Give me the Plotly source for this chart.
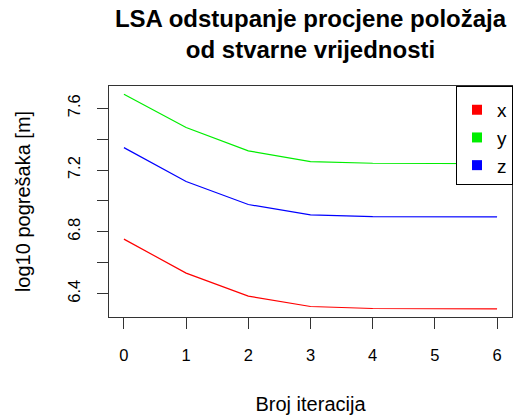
import plotly.graph_objects as go

iterations = [0, 1, 2, 3, 4, 5, 6]
err_x = [6.753, 6.533, 6.384, 6.317, 6.304, 6.302, 6.302]
err_y = [7.690, 7.475, 7.324, 7.255, 7.244, 7.242, 7.241]
err_z = [7.345, 7.126, 6.977, 6.910, 6.899, 6.897, 6.897]
series_names = ["x", "y", "z"]
colors = ["#ff0000", "#00ee00", "#0000ff"]
y_ticks = [6.4, 6.6, 6.8, 7.0, 7.2, 7.4, 7.6]
y_ticktext = ["6.4", "", "6.8", "", "7.2", "", "7.6"]

FONT = "Liberation Sans, Arial, sans-serif"
W, H = 514, 415

fig = go.Figure()
for name, vals, col in zip(series_names, [err_x, err_y, err_z], colors):
    fig.add_trace(go.Scatter(x=iterations, y=vals, mode="lines",
                             line=dict(color=col, width=1.2), showlegend=False))
for name, col in zip(series_names, colors):
    fig.add_trace(go.Scatter(x=[None], y=[None], mode="markers", name=name,
                             marker=dict(symbol="square", size=10, color=col)))

fig.update_layout(
    width=W, height=H,
    margin=dict(l=109, r=2, t=86, b=H - 317, autoexpand=False),
    paper_bgcolor="white", plot_bgcolor="white",
    font=dict(family=FONT, size=16, color="black"),
    title=dict(text="<b>LSA odstupanje procjene položaja<br>od stvarne vrijednosti</b>",
               x=310.5 / W, xanchor="center", y=(H - 27) / H, yanchor="top",
               font=dict(size=24, family=FONT)),
    legend=dict(x=(456 - 109) / 403, xanchor="left", y=1.0, yanchor="top",
                bordercolor="black", borderwidth=1, bgcolor="white",
                title=dict(text=" ", font=dict(size=3)),
                font=dict(size=19, family=FONT, color="black")),
)
fig.update_xaxes(range=[-0.24, 6.24], tickvals=iterations, ticks="outside", ticklen=11,
                 tickcolor="#333", showline=True, linecolor="#333", mirror=True,
                 showgrid=False, zeroline=False, automargin=False, ticklabelstandoff=12,
                 tickfont=dict(size=16.5), title=dict(text="Broj iteracija", font=dict(size=20), standoff=34))
fig.update_yaxes(range=[6.249, 7.744], tickvals=y_ticks, ticktext=y_ticktext, ticks="outside",
                 ticklen=11, tickcolor="#333", showline=True, linecolor="#333", mirror=True,
                 showgrid=False, zeroline=False, tickangle=-90, automargin=False, ticklabelstandoff=10,
                 tickfont=dict(size=16.5), title=dict(text="log10 pogrešaka [m]", font=dict(size=20), standoff=29))

fig.write_html("out.html", config={"displayModeBar": False},
               post_script="document.body.style.margin='0';")
